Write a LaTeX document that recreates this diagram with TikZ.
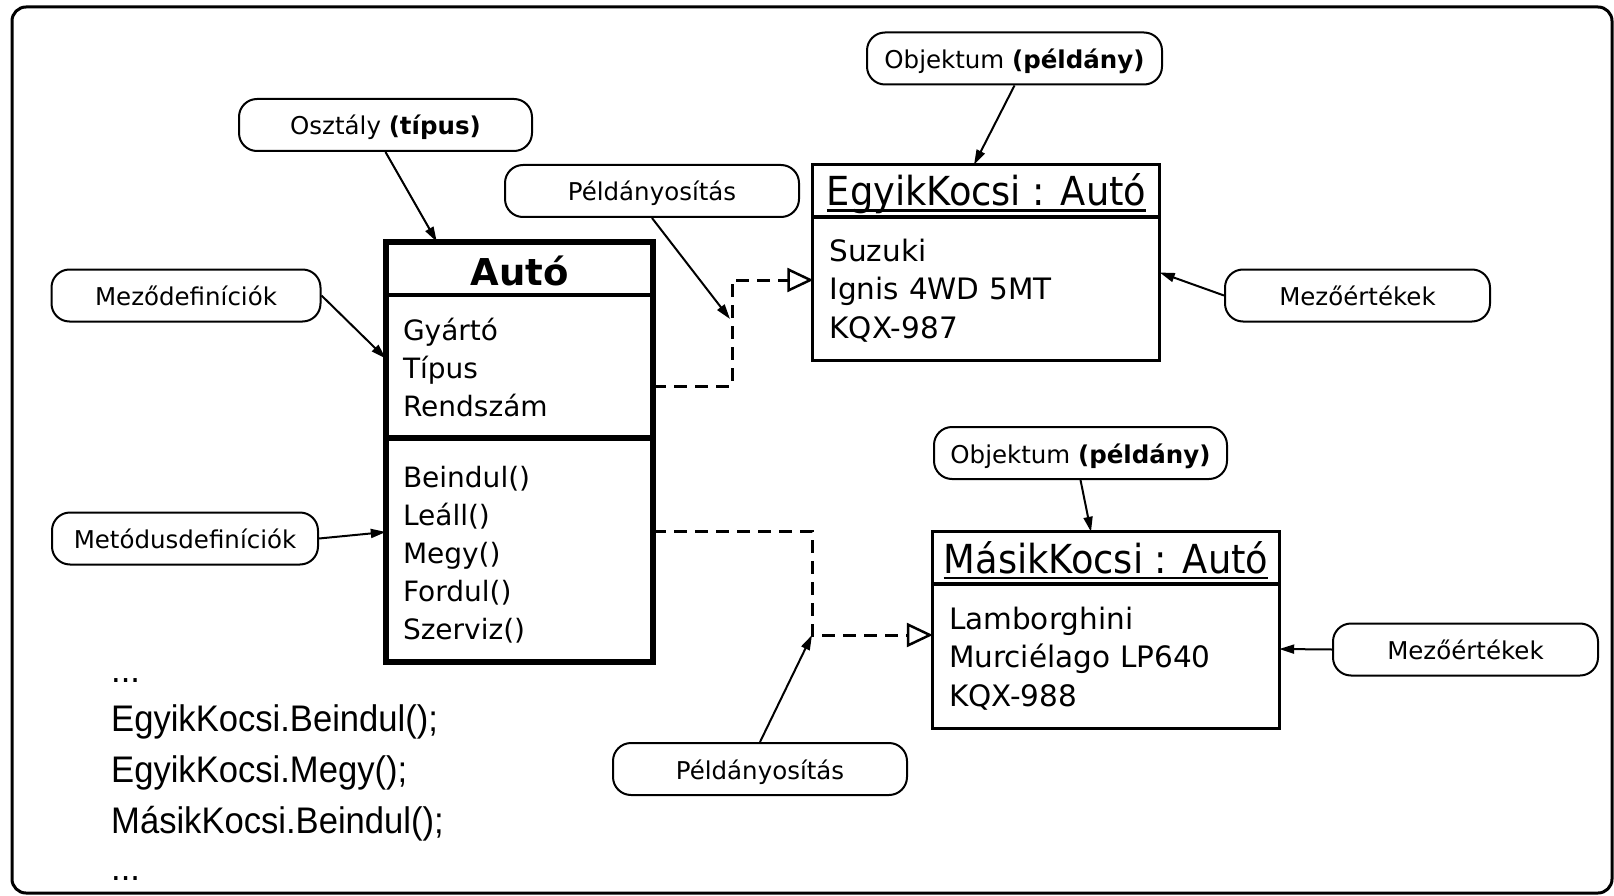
\documentclass[tikz,border=0pt]{standalone}
\usepackage{fontspec}
\setmainfont{DejaVu Sans}
\newfontfamily\objfont[FakeStretch=0.92]{DejaVu Sans}
\newfontfamily\codefont[FakeStretch=0.935]{Liberation Sans}
\usetikzlibrary{positioning,arrows.meta}

% underlined object name
\newcommand\objname[1]{\setbox0=\hbox{#1}\rlap{\rule[-6pt]{\wd0}{2.5pt}}\box0}

\tikzset{
  callout/.style={draw, rounded corners=18pt, line width=2pt, minimum width=#1, minimum height=52pt,
    inner sep=0pt, text height=24pt, text depth=4pt, font=\fontsize{24.5}{28}\selectfont},
  callout/.default=266pt,
  ptr/.style={-{Triangle[length=15pt,width=9pt]}, line width=2pt},
  inst/.style={-{Triangle[open,length=26pt,width=24pt,line width=2.5pt]}, line width=3pt, dash pattern=on 13pt off 8pt},
  classtitle/.style={rectangle, minimum width=267pt, minimum height=53pt, inner sep=0pt,
    text height=33pt, text depth=0pt, font=\bfseries\fontsize{37}{40}\selectfont},
  compart/.style={rectangle, inner sep=0pt, inner xsep=17pt, align=left, text width=233pt,
    font=\fontsize{28}{38}\selectfont},
  objtitle/.style={rectangle, minimum width=347pt, minimum height=52pt, inner sep=0pt,
    text height=38pt, text depth=8pt, font=\objfont\fontsize{40}{44}\selectfont},
  objfields/.style={rectangle, inner sep=0pt, inner xsep=16pt, align=left, text width=314pt,
    font=\fontsize{29.5}{38.5}\selectfont},
  code/.style={anchor=base west, inner sep=0pt, font=\codefont\fontsize{37}{40}\selectfont}
}

\begin{document}
\begin{tikzpicture}[x=1pt, y=-1pt]
  \useasboundingbox (0,0) rectangle (1614,896);
  \draw[line width=3pt, rounded corners=14pt] (12,7) rectangle (1612,893);

  % class
  \node[classtitle] (autotitle) at (519.5,268.5) {Autó};
  \node[compart, minimum height=143pt] (autofields) at (519.5,366.5) {\rule{0pt}{25pt}Gyártó\\Típus\\Rendszám};
  \node[compart, minimum height=224pt] (automethods) at (519.5,550) {\rule{0pt}{31pt}Beindul()\\Leáll()\\Megy()\\Fordul()\\Szerviz()};
  \draw[line width=5.5pt] (autotitle.north west) rectangle (automethods.south east);
  \draw[line width=4pt] (autofields.north west) -- (autofields.north east);
  \draw[line width=6.5pt] (automethods.north west) -- (automethods.north east);

  % objects
  \node[objtitle] (egyiktitle) at (986.5,191) {\objname{EgyikKocsi : Autó}};
  \node[objfields, minimum height=143pt] (egyikfields) at (986.5,288.5) {\rule{0pt}{26pt}Suzuki\\Ignis 4WD 5MT\\KQX-987};
  \draw[line width=3pt] (egyiktitle.north west) rectangle (egyikfields.south east);
  \draw[line width=4.5pt] (egyikfields.north west) -- (egyikfields.north east);

  \node[objtitle] (masiktitle) at (1106,558) {\objname{MásikKocsi : Autó}};
  \node[objfields, minimum height=144pt] (masikfields) at (1106,656) {\rule{0pt}{27pt}Lamborghini\\Murciélago LP640\\KQX-988};
  \draw[line width=3pt] (masiktitle.north west) rectangle (masikfields.south east);
  \draw[line width=4.5pt] (masikfields.north west) -- (masikfields.north east);

  % callouts
  \node[callout=293pt] (osztaly) at (385.5,125) {Osztály \textbf{(típus)}};
  \node[callout=269pt] (mezodef) at (186,295.5) {Meződefiníciók};
  \node[callout=266pt] (metodus) at (185,538.5) {Metódusdefiníciók};
  \node[callout=294pt] (peldanyA) at (652,191) {Példányosítás};
  \node[callout=295pt] (objektumA) at (1014.5,58.5) {Objektum \textbf{(példány)}};
  \node[callout=265pt] (mezoertA) at (1357.5,295.5) {Mezőértékek};
  \node[callout=293pt] (objektumB) at (1080.5,453) {Objektum \textbf{(példány)}};
  \node[callout=294pt] (peldanyB) at (760,769) {Példányosítás};
  \node[callout=265pt] (mezoertB) at (1465.5,649.5) {Mezőértékek};

  % instantiation
  \coordinate (kA) at (732,386);
  \coordinate (kB) at (732,280);
  \coordinate (kC) at (812,531);
  \coordinate (kD) at (812,635);
  \coordinate (tipA) at (730,319);
  \draw[inst] (autofields.east |- kA) -- (kA) -- (kB) -- (egyikfields.west |- kB);
  \draw[inst] (automethods.east |- kC) -- (kC) -- (kD) -- (masikfields.west |- kD);

  \draw[ptr] (osztaly.south) -- ([xshift=51pt]autotitle.north west);
  \draw[ptr] (mezodef.east) -- ([yshift=8pt]autofields.west);
  \draw[ptr] (metodus.east) -- ([yshift=18pt]automethods.west);
  \draw[ptr] (peldanyA.south) -- (tipA);
  \draw[ptr] (objektumA.south) -- ([xshift=-12.5pt]egyiktitle.north);
  \draw[ptr] (mezoertA.west) -- ([yshift=16pt]egyikfields.east);
  \draw[ptr] (objektumB.south) -- ([xshift=-15pt]masiktitle.north);
  \draw[ptr] (peldanyB.north) -- (kD);
  \draw[ptr] (mezoertB.west) -- ([yshift=7pt]masikfields.east);

  % code
  \node[code] (dotsA) at (111,682) {...};
  \node[code] (callA) at (111,731) {EgyikKocsi.Beindul();};
  \node[code] (callB) at (111,782) {EgyikKocsi.Megy();};
  \node[code] (callC) at (111,833) {MásikKocsi.Beindul();};
  \node[code] (dotsB) at (111,880) {...};
\end{tikzpicture}
\end{document}
